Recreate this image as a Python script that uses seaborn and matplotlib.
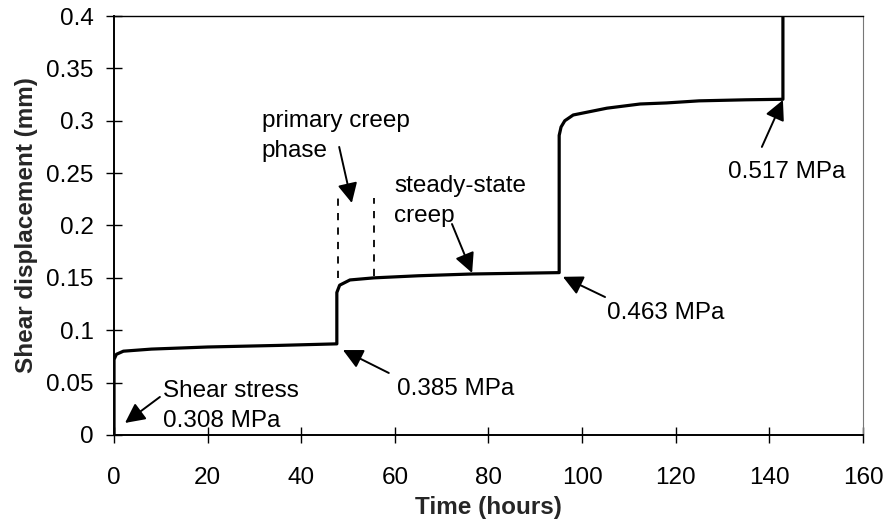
import matplotlib
matplotlib.use("Agg")
import matplotlib.pyplot as plt
import seaborn as sns
import pandas as pd

# Creep test record: time (hours) vs shear displacement (mm)
time_h = [0, 0, 0.5, 2, 8, 20, 35, 47.6, 47.6, 48.2, 50.4, 55.5, 65, 76.5,
          95.1, 95.1, 95.5, 96.3, 98.1, 105.3, 112.4, 118, 125, 135, 142.9, 142.9]
disp_mm = [0, 0.072, 0.077, 0.080, 0.082, 0.084, 0.0855, 0.087, 0.136, 0.143,
           0.148, 0.150, 0.152, 0.1537, 0.155, 0.286, 0.294, 0.300, 0.3055,
           0.312, 0.316, 0.317, 0.319, 0.320, 0.3205, 0.42]

x_ticks = [0, 20, 40, 60, 80, 100, 120, 140, 160]
y_ticks = [0, 0.05, 0.1, 0.15, 0.2, 0.25, 0.3, 0.35, 0.4]
y_tick_labels = ["0", "0.05", "0.1", "0.15", "0.2", "0.25", "0.3", "0.35", "0.4"]

# Load-step labels: text, text anchor (left, last-line baseline), arrow tail, arrow head
labels = ["Shear stress\n0.308 MPa", "0.385 MPa", "primary creep\nphase",
          "steady-state\ncreep", "0.463 MPa", "0.517 MPa"]
label_pos = [(10.5, 0.0076), (60.5, 0.0382), (31.6, 0.2654),
             (59.8, 0.2033), (105.3, 0.1107), (131.2, 0.2453)]
arrow_tail = [(9.8, 0.0363), (58.7, 0.0592), (48.1, 0.275),
              (72.2, 0.2014), (104.9, 0.1317), (138.4, 0.275)]
arrow_head = [(2.35, 0.0115), (48.9, 0.0811), (50.8, 0.2215),
              (76.5, 0.1547), (95.9, 0.151), (142.9, 0.3198)]

# Bounds of the primary creep phase
phase_x = [47.8, 55.5]
phase_ymin = [0.150, 0.152]
phase_ymax = [0.226, 0.226]

sns.set_theme(style="white")
plt.rcParams["font.family"] = ["Liberation Sans", "DejaVu Sans"]

df = pd.DataFrame({"Time (hours)": time_h, "Shear displacement (mm)": disp_mm})

fig = plt.figure(figsize=(8.86, 5.23), dpi=100)
ax = fig.add_axes([0.1287, 0.1683, 0.974 - 0.1287, 0.9694 - 0.1683])

sns.lineplot(data=df, x="Time (hours)", y="Shear displacement (mm)",
             estimator=None, sort=False, color="black", linewidth=2.3, ax=ax)

ax.vlines(phase_x, phase_ymin, phase_ymax, colors="black",
          linestyles=(0, (4, 4)), linewidth=1.3)

for txt, (tx, ty) in zip(labels, label_pos):
    ax.text(tx, ty, txt, ha="left", va="baseline", fontsize=17.5,
            linespacing=1.45, color="black")

for tail, head in zip(arrow_tail, arrow_head):
    ax.annotate("", xy=head, xytext=tail,
                arrowprops=dict(arrowstyle="-|>", color="black", lw=1.4,
                                mutation_scale=30, shrinkA=0, shrinkB=0))

ax.set_xlim(0, 160)
ax.set_ylim(0, 0.4)
ax.set_xticks(x_ticks)
ax.set_yticks(y_ticks)
ax.set_yticklabels(y_tick_labels)
ax.tick_params(axis="both", which="major", bottom=True, left=True,
               direction="inout", length=11.5, width=1.0,
               labelsize=17.5, colors="black")
ax.tick_params(axis="x", pad=17)
ax.tick_params(axis="y", pad=9)

ax.set_xlabel("Time (hours)", fontsize=17.5, fontweight="bold", labelpad=5)
ax.set_ylabel("Shear displacement (mm)", fontsize=17.5, fontweight="bold", labelpad=6)

for side in ["left", "bottom"]:
    ax.spines[side].set_color("black")
    ax.spines[side].set_linewidth(1.4)
ax.spines["top"].set_color("black")
ax.spines["top"].set_linewidth(1.0)
ax.spines["right"].set_color("#777777")
ax.spines["right"].set_linewidth(0.8)

fig.savefig("out.png", dpi=100)
